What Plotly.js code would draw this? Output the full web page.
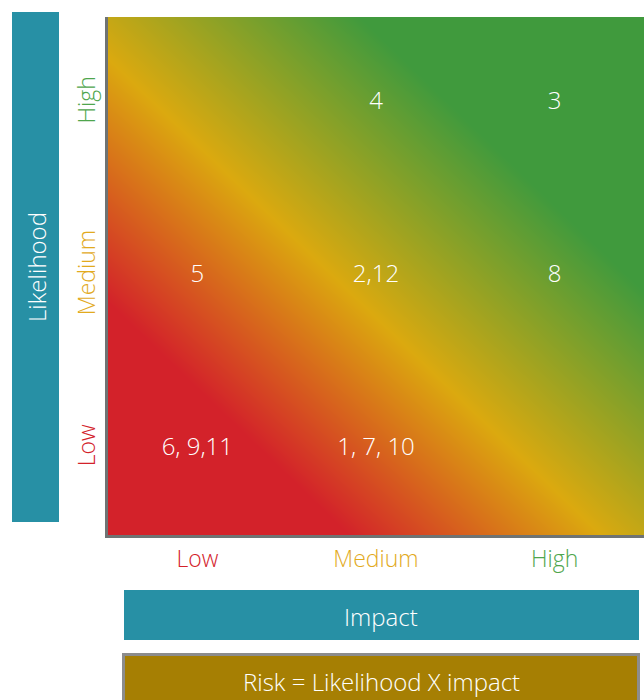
<!DOCTYPE html>
<html>
<head>
<meta charset="utf-8">
<script src="https://cdn.plot.ly/plotly-3.0.1.min.js"></script>
<style>
  html, body { margin: 0; padding: 0; background: #ffffff; }
  #chart { width: 644px; height: 700px; }
</style>
</head>
<body>
<div id="chart"></div>
<script>
// ---- data ----
const impactLevels = ['Low', 'Medium', 'High'];
const likelihoodLevels = ['Low', 'Medium', 'High'];
const levelColors = ['#D3222A', '#E2AA1E', '#4FA64D'];
// risk ids per cell: rows = likelihood (Low..High), columns = impact (Low..High)
const cellRisks = [
  ['6, 9,11', '1, 7, 10', ''],
  ['5', '2,12', '8'],
  ['', '4', '3']
];
// background gradient levels at the four corners (bottom row first)
const cornerLevels = [[0, 1], [1, 2]];
const gradientStops = [
  [0, '#D3222A'], [0.225, '#D3222A'], [0.46, '#DBA90F'], [0.735, '#409A3D'], [1, '#409A3D']
];
const yAxisTitle = 'Likelihood';
const xAxisTitle = 'Impact';
const footerText = 'Risk = Likelihood X impact';

// ---- layout helpers ----
const W = 644, H = 700;
const L = 108, R = 0, T = 17, B = 165;
const PW = W - L - R, PH = H - T - B;
const px = v => (v - L) / PW;
const py = v => (H - B - v) / PH;

const FONT = '"Open Sans", Roboto, "Liberation Sans", Arial, sans-serif';
const teal = '#2790A5';
const FS = 24;
const TFS = 23;

const n = impactLevels.length;
const cx = [], cy = [], ct = [];
cellRisks.forEach((row, r) => row.forEach((t, c) => {
  if (t) { cx.push(c + 0.5); cy.push(r + 0.5); ct.push(t); }
}));

const traces = [
  {
    type: 'heatmap',
    x: [0, n], y: [0, likelihoodLevels.length],
    z: cornerLevels,
    zmin: 0, zmax: 2,
    zsmooth: 'best',
    colorscale: gradientStops,
    showscale: false,
    hoverinfo: 'skip'
  },
  {
    type: 'scatter', mode: 'text',
    x: cx, y: cy, text: ct,
    textfont: { family: FONT, size: FS, color: '#ffffff', weight: 300 },
    hoverinfo: 'skip', showlegend: false
  }
];

const tickText = arr => arr.map((t, i) => `<span style="color:${levelColors[i]}">${t}</span>`);

const annFont = { family: FONT, size: FS, color: '#ffffff', weight: 300 };

const layout = {
  width: W, height: H,
  margin: { l: L, r: R, t: T, b: B, pad: 0 },
  paper_bgcolor: '#ffffff', plot_bgcolor: '#ffffff',
  showlegend: false,
  font: { family: FONT, size: FS, weight: 300 },
  xaxis: {
    range: [0, n], fixedrange: true, zeroline: false,
    showgrid: false,
    tickvals: impactLevels.map((_, i) => i + 0.5),
    ticktext: tickText(impactLevels),
    ticks: '', ticklabelstandoff: 1,
    tickfont: { family: FONT, size: TFS, weight: 300 },
    showline: true, linecolor: '#6F7373', linewidth: 3,
    minor: { tickvals: [1, 2], showgrid: true, gridcolor: '#6E7680', griddash: 'dash', gridwidth: 1, ticks: '' }
  },
  yaxis: {
    range: [0, likelihoodLevels.length], fixedrange: true, zeroline: false,
    showgrid: false,
    tickvals: likelihoodLevels.map((_, i) => i + 0.5),
    ticktext: tickText(likelihoodLevels),
    tickangle: -90,
    ticks: '', ticklabelstandoff: 1,
    tickfont: { family: FONT, size: TFS, weight: 300 },
    showline: true, linecolor: '#6F7373', linewidth: 3,
    minor: { tickvals: [1, 2], showgrid: true, gridcolor: '#6E7680', griddash: 'dash', gridwidth: 1, ticks: '' }
  },
  shapes: [
    { type: 'rect', xref: 'paper', yref: 'paper', x0: px(12), x1: px(59), y0: py(522), y1: py(12),
      fillcolor: teal, line: { width: 0 }, layer: 'above' },
    { type: 'rect', xref: 'paper', yref: 'paper', x0: px(124), x1: px(639), y0: py(640), y1: py(590),
      fillcolor: teal, line: { width: 0 }, layer: 'above' },
    { type: 'rect', xref: 'paper', yref: 'paper', x0: px(123.5), x1: px(638.5), y0: py(715), y1: py(654.5),
      fillcolor: '#A67F03', line: { width: 3, color: '#8C8C8C' }, layer: 'above' }
  ],
  annotations: [
    { xref: 'paper', yref: 'paper', x: px(36), y: py(267), xanchor: 'center', yanchor: 'middle',
      text: yAxisTitle, textangle: -90, showarrow: false, font: annFont },
    { xref: 'paper', yref: 'paper', x: px(381), y: py(616), xanchor: 'center', yanchor: 'middle',
      text: xAxisTitle, showarrow: false, font: annFont },
    { xref: 'paper', yref: 'paper', x: px(381), y: py(681), xanchor: 'center', yanchor: 'middle',
      text: footerText, showarrow: false, font: annFont }
  ]
};

Plotly.newPlot('chart', traces, layout, { displayModeBar: false, staticPlot: true });
</script>
</body>
</html>
